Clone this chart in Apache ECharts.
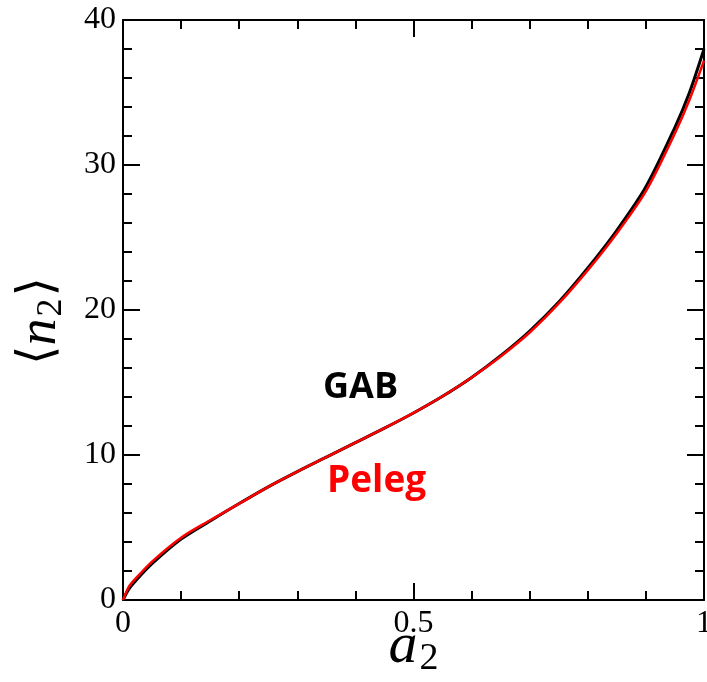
<!DOCTYPE html>
<html>
<head>
<meta charset="utf-8">
<script src="https://cdn.jsdelivr.net/npm/echarts@6/dist/echarts.min.js"></script>
<style>
  html, body { margin: 0; padding: 0; background: #fff; }
  #chart { width: 707px; height: 682px; }
</style>
</head>
<body>
<div id="chart"></div>
<script>
// water activity a2
const activity = [0, 0.01, 0.02, 0.05, 0.1, 0.15, 0.2, 0.25, 0.3, 0.35, 0.4, 0.45, 0.5, 0.55, 0.6, 0.65, 0.7, 0.75, 0.8, 0.85, 0.9, 0.95, 0.975, 1.0]
// <n2> GAB fit
const gabValues = [0, 0.75, 1.25, 2.5, 4.2, 5.45, 6.65, 7.8, 8.85, 9.85, 10.85, 11.85, 12.9, 14.05, 15.35, 16.85, 18.55, 20.55, 22.9, 25.5, 28.5, 32.6, 35.0, 38.0]
// <n2> Peleg fit
const pelegValues = [0, 0.9, 1.4, 2.65, 4.3, 5.5, 6.65, 7.8, 8.85, 9.85, 10.85, 11.85, 12.9, 14.05, 15.35, 16.8, 18.45, 20.45, 22.75, 25.3, 28.2, 32.2, 34.5, 37.2]
const xTicks = [0, 0.5, 1]
const yTicks = [0, 10, 20, 30, 40]

const serif = '"Liberation Serif", "DejaVu Serif", serif'
const sans = '"Open Sans", "Liberation Sans", sans-serif'

const toPairs = (xs, ys) => xs.map((x, i) => [x, ys[i]])

const chart = echarts.init(document.getElementById('chart'))

// shared axis look: inward ticks, black frame
function frameAxis(extra) {
  return {
    axisLine: { show: true, onZero: false, lineStyle: { color: '#000', width: 2 } },
    axisTick: { show: true, inside: true, length: 17, lineStyle: { color: '#000', width: 2 } },
    minorTick: { show: true, splitNumber: 5, length: 9, lineStyle: { color: '#000', width: 2 } },
    splitLine: { show: false },
    minorSplitLine: { show: false },
    ...extra
  }
}

const option = {
  backgroundColor: '#fff',
  animation: false,
  grid: { left: 123, right: 3, top: 20, bottom: 82, containLabel: false, outerBoundsMode: 'none' },
  xAxis: [
    frameAxis({
      type: 'value', min: xTicks[0], max: xTicks[xTicks.length - 1], interval: 0.5,
      position: 'bottom',
      axisLabel: { fontFamily: serif, fontSize: 32, color: '#000', margin: 8, formatter: v => String(v) },
      name: '{a|a}{s|2}',
      nameLocation: 'middle',
      nameGap: 18,
      nameMoveOverlap: false,
      nameTextStyle: {
        rich: {
          a: { fontFamily: serif, fontStyle: 'italic', fontSize: 58, color: '#000', verticalAlign: 'top', lineHeight: 60 },
          s: { fontFamily: serif, fontSize: 38, color: '#000', verticalAlign: 'bottom', lineHeight: 38, padding: [44, 0, 0, 2] }
        }
      }
    }),
    frameAxis({
      type: 'value', min: 0, max: 1, interval: 0.5, position: 'top',
      axisLabel: { show: false }
    })
  ],
  yAxis: [
    frameAxis({
      type: 'value', min: yTicks[0], max: yTicks[yTicks.length - 1], interval: 10,
      position: 'left',
      axisLabel: { fontFamily: serif, fontSize: 32, color: '#000', margin: 7 },
      name: '{b|\u27e8}{n|n}{s|2}{b|\u27e9}',
      nameLocation: 'middle',
      nameRotate: 90,
      nameGap: 53,
      nameMoveOverlap: false,
      nameTextStyle: {
        padding: [0, 22, 0, 0],
        rich: {
          b: { fontFamily: '"DejaVu Serif", serif', fontSize: 50, color: '#000', lineHeight: 56, verticalAlign: 'top' },
          n: { fontFamily: serif, fontStyle: 'italic', fontSize: 54, color: '#000', lineHeight: 56, verticalAlign: 'top' },
          s: { fontFamily: serif, fontSize: 36, color: '#000', verticalAlign: 'bottom', lineHeight: 36, padding: [26, 2, 0, 2] }
        }
      }
    }),
    frameAxis({
      type: 'value', min: 0, max: 40, interval: 10, position: 'right',
      axisLabel: { show: false }
    })
  ],
  graphic: [
    { type: 'text', left: 323, top: 370, style: { text: 'GAB', font: 'bold 36px ' + sans, fill: '#000' } },
    { type: 'text', left: 327, top: 463, style: { text: 'Peleg', font: 'bold 37px ' + sans, fill: '#ff0000' } }
  ],
  series: [
    {
      name: 'GAB', type: 'line', showSymbol: false, smooth: 0.3,
      lineStyle: { color: '#000', width: 3 },
      data: toPairs(activity, gabValues), z: 2
    },
    {
      name: 'Peleg', type: 'line', showSymbol: false, smooth: 0.3,
      lineStyle: { color: '#ff0000', width: 2.5 },
      data: toPairs(activity, pelegValues), z: 3
    }
  ]
}

chart.setOption(option)
</script>
</body>
</html>
